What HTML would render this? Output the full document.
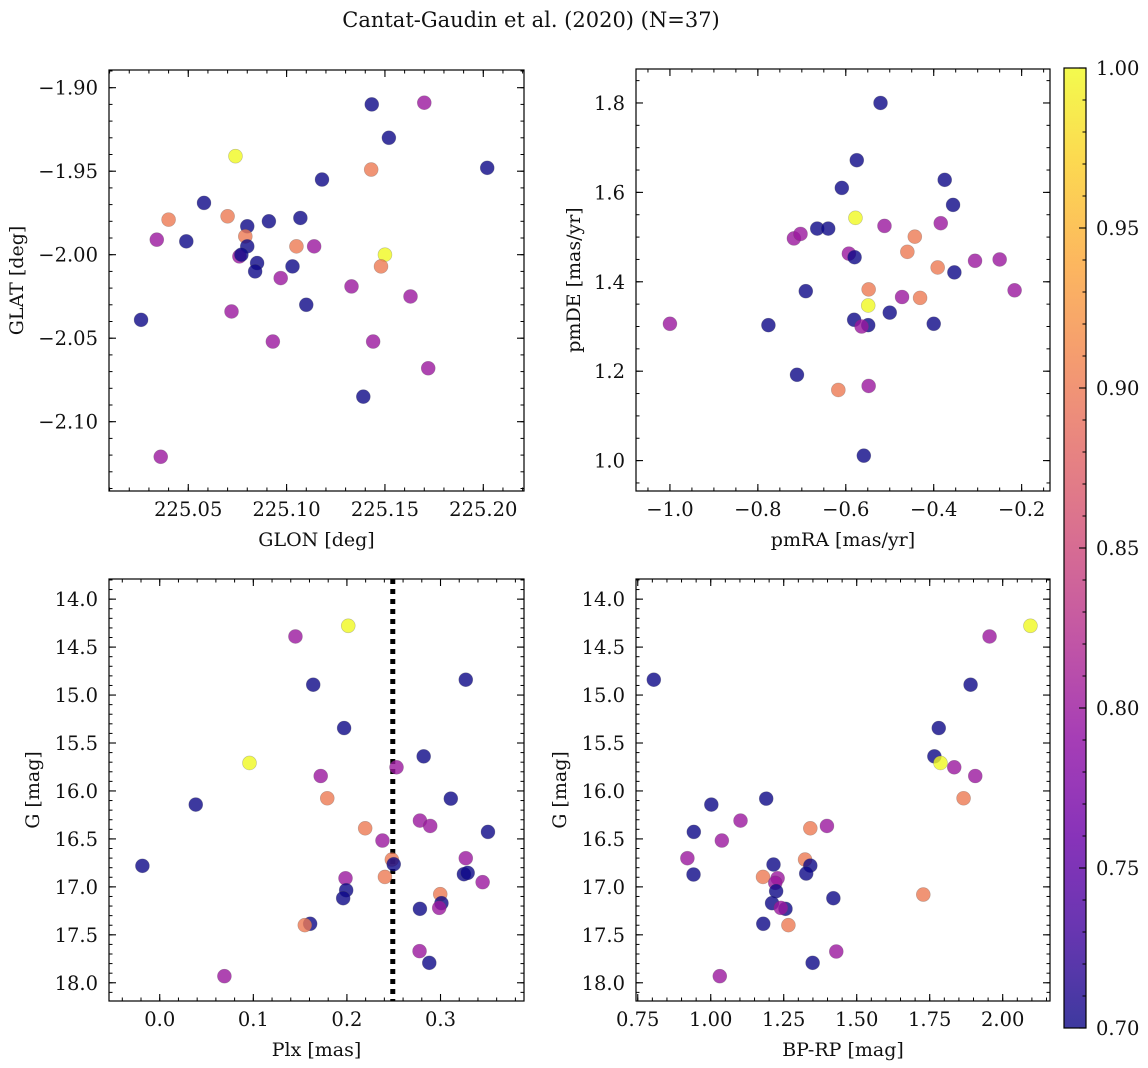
<!DOCTYPE html>
<html><head><meta charset="utf-8">
<style>
html,body{margin:0;padding:0;background:#fff;}
svg{display:block;font-family:"DejaVu Serif","Liberation Serif",serif;}
</style></head>
<body>
<svg id="fig" width="1148" height="1068" viewBox="0 0 1148 1068" xmlns="http://www.w3.org/2000/svg">
<rect width="1148" height="1068" fill="#fff"/>
<text x="531" y="27" font-size="21" text-anchor="middle" fill="#111">Cantat-Gaudin et al. (2020) (N=37)</text>
</svg>
<script>
// ---- data (per panel) ----
const glon = [225.1433,225.170,225.152,225.074,225.143,225.202,225.118,225.058,225.040,225.070,225.080,225.091,225.107,225.034,225.049,225.079,225.080,225.105,225.114,225.076,225.077,225.150,225.085,225.148,225.103,225.084,225.097,225.133,225.110,225.163,225.072,225.026,225.093,225.144,225.172,225.139,225.036];
const glat = [-1.910,-1.909,-1.930,-1.941,-1.949,-1.948,-1.955,-1.969,-1.979,-1.977,-1.983,-1.980,-1.978,-1.991,-1.992,-1.989,-1.995,-1.995,-1.995,-2.001,-2.000,-2.000,-2.005,-2.007,-2.007,-2.010,-2.014,-2.019,-2.030,-2.025,-2.034,-2.039,-2.052,-2.052,-2.068,-2.085,-2.121];
const probTL = [0.70,0.80,0.70,1.00,0.90,0.70,0.70,0.70,0.90,0.90,0.70,0.70,0.70,0.80,0.70,0.90,0.70,0.90,0.80,0.80,0.70,1.00,0.70,0.90,0.70,0.70,0.80,0.80,0.70,0.80,0.80,0.70,0.80,0.80,0.80,0.70,0.80];

const pmra = [-0.521,-0.575,-0.375,-0.609,-0.356,-0.578,-0.512,-0.384,-0.665,-0.640,-0.718,-0.703,-0.443,-0.460,-0.593,-0.580,-0.306,-0.250,-0.391,-0.353,-0.691,-0.548,-0.216,-0.472,-0.431,-0.549,-0.500,-0.581,-0.549,-0.564,-0.776,-1.000,-0.400,-0.711,-0.617,-0.548,-0.559];
const pmde = [1.800,1.672,1.628,1.610,1.572,1.543,1.525,1.531,1.519,1.519,1.497,1.507,1.501,1.467,1.463,1.455,1.447,1.450,1.432,1.421,1.379,1.383,1.381,1.366,1.364,1.347,1.331,1.315,1.303,1.300,1.303,1.306,1.306,1.192,1.158,1.167,1.011];
const probTR = [0.70,0.70,0.70,0.70,0.70,1.00,0.80,0.80,0.70,0.70,0.80,0.80,0.90,0.90,0.80,0.70,0.80,0.80,0.90,0.70,0.70,0.90,0.80,0.80,0.90,1.00,0.70,0.70,0.70,0.80,0.70,0.80,0.70,0.70,0.90,0.80,0.70];

const plx = [0.2014,0.145,0.164,0.327,0.197,0.282,0.0959,0.253,0.172,0.311,0.179,0.0385,0.278,0.289,0.2195,0.3507,0.238,0.248,0.250,0.327,-0.0185,0.325,0.329,0.2406,0.1985,0.345,0.1992,0.196,0.2997,0.301,0.2986,0.278,0.1607,0.155,0.2776,0.288,0.0691];
const gmagBL = [14.278,14.389,14.892,14.840,15.344,15.639,15.708,15.753,15.844,16.080,16.076,16.142,16.309,16.365,16.389,16.427,16.517,16.715,16.764,16.701,16.781,16.868,16.854,16.896,16.910,16.951,17.035,17.118,17.076,17.170,17.219,17.229,17.385,17.399,17.670,17.792,17.931];
const probBL = [1.00,0.80,0.70,0.70,0.70,0.70,1.00,0.80,0.80,0.70,0.90,0.70,0.80,0.80,0.90,0.70,0.80,0.90,0.70,0.80,0.70,0.70,0.70,0.90,0.80,0.80,0.70,0.70,0.90,0.70,0.80,0.70,0.70,0.90,0.80,0.70,0.80];
const plxCut = [0.249];

const bprp = [2.095,1.955,0.805,1.890,1.781,1.766,1.787,1.834,1.906,1.190,1.866,1.002,1.102,1.398,1.341,0.942,1.038,1.323,1.341,0.920,1.215,1.327,0.941,1.179,1.229,1.221,1.224,1.420,1.728,1.210,1.256,1.240,1.180,1.266,1.430,1.349,1.031];
const gmagBR = [14.278,14.389,14.840,14.892,15.344,15.639,15.708,15.753,15.844,16.080,16.076,16.142,16.309,16.365,16.389,16.427,16.517,16.715,16.778,16.701,16.767,16.861,16.871,16.896,16.910,16.958,17.045,17.118,17.080,17.170,17.229,17.219,17.385,17.399,17.674,17.792,17.931];
const probBR = [1.00,0.80,0.70,0.70,0.70,0.70,1.00,0.80,0.80,0.70,0.90,0.70,0.80,0.80,0.90,0.70,0.80,0.90,0.70,0.80,0.70,0.70,0.70,0.90,0.80,0.80,0.70,0.70,0.90,0.70,0.70,0.80,0.70,0.90,0.80,0.70,0.80];

const cbarTicks = [0.70,0.75,0.80,0.85,0.90,0.95,1.00];

// ---- helpers ----
const NS = "http://www.w3.org/2000/svg";
const svg = document.getElementById('fig');
function mk(tag, attrs, parent){
  const e = document.createElementNS(NS, tag);
  for (const k in attrs) e.setAttribute(k, attrs[k]);
  (parent||svg).appendChild(e);
  return e;
}
const plasmaStops = ["#0d0887","#41049d","#6a00a8","#8f0da4","#b12a90","#cc4778","#e16462","#f2844b","#fca636","#fcce25","#f0f921"];
function hex2rgb(h){return [parseInt(h.slice(1,3),16),parseInt(h.slice(3,5),16),parseInt(h.slice(5,7),16)];}
function plasma(t){
  t=Math.max(0,Math.min(1,t));
  const f=t*10, i=Math.min(9,Math.floor(f)), r=f-i;
  const a=hex2rgb(plasmaStops[i]), b=hex2rgb(plasmaStops[i+1]);
  return 'rgb('+a.map((v,k)=>Math.round(v+(b[k]-v)*r)).join(',')+')';
}
const vmin=0.70, vmax=1.00;
function fmt(v,d){ const s=Math.abs(v).toFixed(d); return (v< -1e-9? '\u2212':'')+s; }

function panel(o){
  const g = mk('g',{});
  
  
  const X = v => o.x0 + (v-o.xmin)/(o.xmax-o.xmin)*(o.x1-o.x0);
  const Y = v => o.invertY ? o.y0 + (v-o.ymin)/(o.ymax-o.ymin)*(o.y1-o.y0)
                           : o.y1 - (v-o.ymin)/(o.ymax-o.ymin)*(o.y1-o.y0);
  if (o.vline){
    const l = mk('line',{x1:X(o.vline[0]),x2:X(o.vline[0]),y1:o.y0,y2:o.y1,stroke:'#000','stroke-width':5,'stroke-dasharray':'5 5'},g);
    
    
  }
  for (let i=0;i<o.xs.length;i++){
    const c = mk('circle',{cx:X(o.xs[i]).toFixed(2),cy:Y(o.ys[i]).toFixed(2),r:7,fill:plasma((o.cs[i]-vmin)/(vmax-vmin)),'fill-opacity':0.8,stroke:'#555','stroke-opacity':0.35,'stroke-width':0.6},g);
    
    
  }
  const fr = mk('rect',{x:o.x0,y:o.y0,width:o.x1-o.x0,height:o.y1-o.y0,fill:'none',stroke:'#000','stroke-width':1.2},g);
  
  
  const eps=1e-9;
  function ticks(min,max,step){const a=[];const s=Math.ceil((min-eps)/step);for(let k=s;k*step<=max+eps;k++)a.push(+(k*step).toFixed(6));return a;}
  const xt = mk('g',{},g);  
  ticks(o.xmin,o.xmax,o.xminor).forEach(v=>{const x=X(v);
    mk('line',{x1:x,x2:x,y1:o.y1,y2:o.y1-3.5,stroke:'#000','stroke-width':1},xt);
    mk('line',{x1:x,x2:x,y1:o.y0,y2:o.y0+3.5,stroke:'#000','stroke-width':1},xt);});
  ticks(o.xmin,o.xmax,o.xmajor).forEach(v=>{const x=X(v);
    mk('line',{x1:x,x2:x,y1:o.y1,y2:o.y1-7,stroke:'#000','stroke-width':1.1},xt);
    mk('line',{x1:x,x2:x,y1:o.y0,y2:o.y0+7,stroke:'#000','stroke-width':1.1},xt);
    const t=mk('text',{x:x,y:o.y1+25,'font-size':19.5,'text-anchor':'middle',fill:'#111'},xt); t.textContent=fmt(v,o.xdec);
     });
  const yt = mk('g',{},g);  
  ticks(o.ymin,o.ymax,o.yminor).forEach(v=>{const y=Y(v);
    mk('line',{x1:o.x0,x2:o.x0+3.5,y1:y,y2:y,stroke:'#000','stroke-width':1},yt);
    mk('line',{x1:o.x1,x2:o.x1-3.5,y1:y,y2:y,stroke:'#000','stroke-width':1},yt);});
  ticks(o.ymin,o.ymax,o.ymajor).forEach(v=>{const y=Y(v);
    mk('line',{x1:o.x0,x2:o.x0+7,y1:y,y2:y,stroke:'#000','stroke-width':1.1},yt);
    mk('line',{x1:o.x1,x2:o.x1-7,y1:y,y2:y,stroke:'#000','stroke-width':1.1},yt);
    const t=mk('text',{x:o.x0-11,y:y+7,'font-size':19.5,'text-anchor':'end',fill:'#111'},yt); t.textContent=fmt(v,o.ydec);
     });
  const xl=mk('text',{x:(o.x0+o.x1)/2,y:o.y1+55,'font-size':19,'text-anchor':'middle',fill:'#111'},g); xl.textContent=o.xlabel;
   
  const yl=mk('text',{x:0,y:0,'font-size':19,'text-anchor':'middle',fill:'#111',transform:`translate(${o.ylx},${(o.y0+o.y1)/2}) rotate(-90)`},g); yl.textContent=o.ylabel;
   
}

panel({name:'glon-glat-panel',x0:109,x1:524,y0:70,y1:491,xmin:225.0097,xmax:225.2207,ymin:-2.1415,ymax:-1.8894,
  xmajor:0.05,xminor:0.01,ymajor:0.05,yminor:0.01,xdec:2,ydec:2,xs:glon,ys:glat,cs:probTL,xlabel:'GLON [deg]',ylabel:'GLAT [deg]',ylx:23});
panel({name:'proper-motion-panel',x0:636,x1:1050,y0:69,y1:491,xmin:-1.0772,xmax:-0.1355,ymin:0.932,ymax:1.876,
  xmajor:0.2,xminor:0.05,ymajor:0.2,yminor:0.05,xdec:1,ydec:1,xs:pmra,ys:pmde,cs:probTR,xlabel:'pmRA [mas/yr]',ylabel:'pmDE [mas/yr]',ylx:580});
panel({name:'parallax-mag-panel',x0:109,x1:524,y0:579,y1:1001,xmin:-0.0542,xmax:0.3892,ymin:13.79,ymax:18.19,invertY:true,
  xmajor:0.1,xminor:0.02,ymajor:0.5,yminor:0.1,xdec:1,ydec:1,xs:plx,ys:gmagBL,cs:probBL,vline:plxCut,xlabel:'Plx [mas]',ylabel:'G [mag]',ylx:39});
panel({name:'color-magnitude-panel',x0:636,x1:1050,y0:579,y1:1001,xmin:0.744,xmax:2.162,ymin:13.79,ymax:18.19,invertY:true,
  xmajor:0.25,xminor:0.05,ymajor:0.5,yminor:0.1,xdec:2,ydec:1,xs:bprp,ys:gmagBR,cs:probBR,xlabel:'BP-RP [mag]',ylabel:'G [mag]',ylx:566});

// ---- colorbar ----
(function(){
  const cx0=1064,cx1=1086,cy0=68,cy1=1028;
  const g=mk('g',{});  
  const defs=mk('defs',{},g);
  const lg=mk('linearGradient',{id:'pl',x1:0,y1:1,x2:0,y2:0},defs);
  for(let i=0;i<=20;i++){const t=i/20; mk('stop',{offset:t,'stop-color':plasma(t),'stop-opacity':0.8},lg);}
  mk('rect',{x:cx0,y:cy0,width:cx1-cx0,height:cy1-cy0,fill:'#fff'},g);
  const r=mk('rect',{x:cx0,y:cy0,width:cx1-cx0,height:cy1-cy0,fill:'url(#pl)',stroke:'#000','stroke-width':1.2},g);
   
  const Yc=v=>cy1-(v-vmin)/(vmax-vmin)*(cy1-cy0);
  for(let k=0;k<=30;k++){const v=vmin+k*0.01;const y=Yc(v);
    mk('line',{x1:cx1,x2:cx1-3.5,y1:y,y2:y,stroke:'#000','stroke-width':1},g);}
  cbarTicks.forEach(v=>{const y=Yc(v);
    mk('line',{x1:cx1,x2:cx1-7,y1:y,y2:y,stroke:'#000','stroke-width':1.1},g);
    const t=mk('text',{x:cx1+10,y:y+7,'font-size':19.5,fill:'#111'},g); t.textContent=v.toFixed(2);
     });
})();
</script>
</body></html>
